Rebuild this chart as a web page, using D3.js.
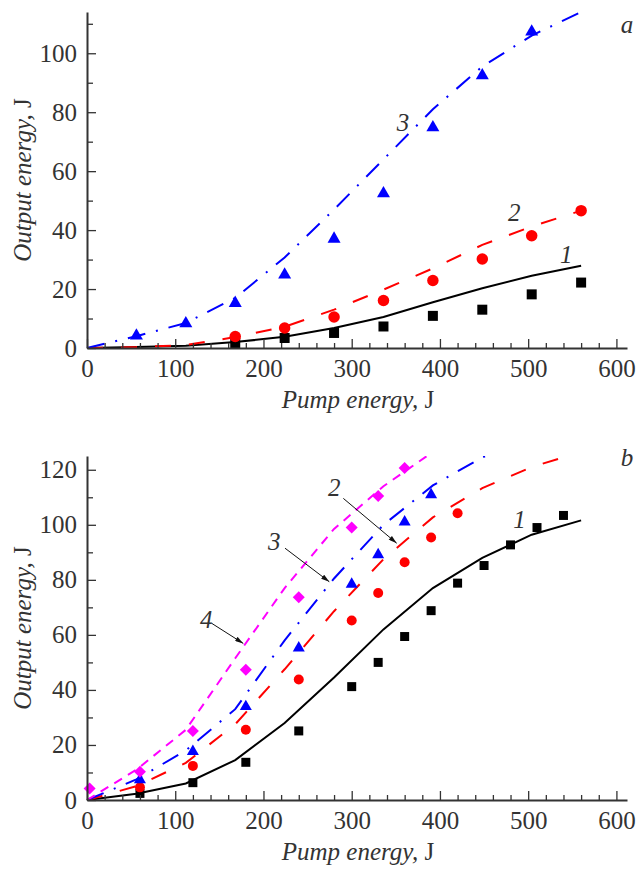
<!DOCTYPE html>
<html>
<head>
<meta charset="utf-8">
<title>Output energy vs pump energy</title>
<style>
body { margin: 0; background: #fff; }
text { font-family: "Liberation Serif", "DejaVu Serif", serif; fill: #333; }
.axis path { stroke: #333; stroke-width: 2; }
.axis line { stroke: #333; stroke-width: 1.3; }
.axis text { font-size: 25px; fill: #333; font-family: "Liberation Serif", serif; }
.title { font-size: 25px; font-style: italic; }
.lab { font-size: 25px; font-style: italic; }
</style>
<script src="https://d3js.org/d3.v7.min.js"></script>
</head>
<body>
<svg width="637" height="870"></svg>
<script>
// ---- panel a : calculated curves (pump grid) ----
const aCalcX = [0, 56, 112, 168, 224, 280, 336, 392, 448, 504, 560];
const aCalc1 = [0, 0.3, 0.8, 2.0, 3.8, 6.8, 10.5, 15.5, 20.3, 24.5, 27.9];
const aCalc2 = [0, 0.3, 1.0, 3.7, 7.2, 13, 19.8, 27, 35, 41.2, 46.6];
const aCalc3 = [0, 4, 8.5, 17, 30.7, 47, 64, 81, 95.5, 106, 114];
// panel a : measured points
const aExpX1 = [168, 224, 280, 336, 392, 448, 504, 560];
const aExp1 = [1.7, 3.4, 5.1, 7.3, 10.9, 13, 18.2, 22.2];
const aExpX2 = [168, 224, 280, 336, 392, 448, 504, 560];
const aExp2 = [3.9, 6.8, 10.5, 16.1, 22.9, 30.2, 38.1, 46.6];
const aExpX3 = [56, 112, 168, 224, 280, 336, 392, 448, 504];
const aExp3 = [4.7, 8.9, 15.8, 25.4, 37.6, 53, 75.4, 93, 107.9];

// ---- panel b : calculated curves ----
const bCalcX = [0, 56, 112, 168, 224, 280, 336, 392, 448, 504, 560];
const bCalc1 = [0, 2.3, 6.0, 14.5, 28, 44.5, 62, 77, 88, 96.4, 101.6];
const bCalc2 = [0, 5, 13.5, 27.5, 47.5, 68.6, 87.5, 102.7, 113.3, 121, 126.5];
const bCalc3 = [0, 7.5, 18, 33, 58, 80.5, 100, 114.3, 124.5, 132];
const bCalc4 = [0, 11, 25.5, 51.5, 77, 98.5, 114, 126.5];
// panel b : measured points
const bExpX1 = [60, 120, 180, 240, 300, 330, 360, 390, 420, 450, 480, 510, 540];
const bExp1 = [2.4, 6.3, 13.7, 25.1, 41.2, 50, 59.4, 68.8, 78.8, 85.2, 92.7, 99, 103.4];
const bExpX2 = [60, 120, 180, 240, 300, 330, 360, 390, 420];
const bExp2 = [4.6, 12.4, 25.5, 43.8, 65.2, 75.2, 86.4, 95.4, 104.2];
const bExpX3 = [60, 120, 180, 240, 300, 330, 360, 390];
const bExp3 = [7.9, 18.2, 34.5, 55.8, 79, 89.7, 101.6, 111.5];
const bExpX4 = [3, 60, 120, 180, 240, 300, 330, 360];
const bExp4 = [4.2, 10.3, 25.1, 47.3, 73.7, 99, 110.5, 120.6];

// ticks
const xMajor = d3.range(0, 601, 100);
const xMinor = d3.range(20, 601, 20).filter(v => v % 100 !== 0);

const svg = d3.select('svg');

// arrow head for the curve labels
svg.append('defs').append('marker')
    .attr('id', 'arrow')
    .attr('viewBox', '0 0 10 6')
    .attr('refX', 10).attr('refY', 3)
    .attr('markerWidth', 9).attr('markerHeight', 5)
    .attr('markerUnits', 'userSpaceOnUse')
    .attr('orient', 'auto')
  .append('path')
    .attr('d', 'M0,0L10,3L0,6Z')
    .attr('fill', '#111');

// marker shapes (centred on bounding box)
const triangle = s => ({ draw(ctx) { ctx.moveTo(0, -s * 0.45); ctx.lineTo(s / 2, s * 0.42); ctx.lineTo(-s / 2, s * 0.42); ctx.closePath(); } });
const diamond = s => ({ draw(ctx) { ctx.moveTo(0, -s / 2); ctx.lineTo(s / 2, 0); ctx.lineTo(0, s / 2); ctx.lineTo(-s / 2, 0); ctx.closePath(); } });
const square = s => ({ draw(ctx) { ctx.rect(-s / 2, -s / 2, s, s); } });
const circle = s => ({ draw(ctx) { ctx.moveTo(s / 2, 0); ctx.arc(0, 0, s / 2, 0, 2 * Math.PI); } });

function drawPanel(p) {
    const x = d3.scaleLinear().domain([0, 612]).range([87, 627]);
    const y = d3.scaleLinear().domain([0, p.yMax]).range(p.yRange);

    const g = svg.append('g');

    // clip for curves that run past the top
    const clipId = 'clip-' + p.name;
    g.append('clipPath').attr('id', clipId)
      .append('rect')
        .attr('x', 0).attr('y', p.yRange[1])
        .attr('width', 637).attr('height', p.yRange[0] - p.yRange[1] + 20);

    // calculated curves
    const line = d3.line().x(d => x(d[0])).y(d => y(d[1]));
    p.curves.forEach(c => {
        const pts = c.ys.map((v, i) => [c.xs[i], v]);
        g.append('path')
            .attr('clip-path', `url(#${clipId})`)
            .attr('d', line(pts))
            .attr('fill', 'none')
            .attr('stroke', c.color)
            .attr('stroke-width', 2)
            .attr('stroke-dasharray', c.dash);
    });

    // measured points
    p.points.forEach(s => {
        const sym = d3.symbol().type(s.shape);
        g.selectAll(null).data(s.ys.map((v, i) => [s.xs[i], v]))
          .enter().append('path')
            .attr('d', sym)
            .attr('transform', d => `translate(${x(d[0])},${y(d[1])})`)
            .attr('fill', s.color);
    });

    // axes
    const y0 = p.yRange[0];
    g.append('g').attr('class', 'axis')
        .attr('transform', `translate(0,${y0})`)
        .call(d3.axisBottom(x).tickValues(xMajor).tickSizeInner(-9).tickSizeOuter(0).tickPadding(11));
    g.append('g').attr('class', 'axis')
        .attr('transform', `translate(0,${y0})`)
        .call(d3.axisBottom(x).tickValues(xMinor).tickSizeInner(-5).tickSizeOuter(0).tickFormat(''))
        .select('.domain').remove();

    g.append('g').attr('class', 'axis')
        .attr('transform', 'translate(87,0)')
        .call(d3.axisLeft(y).tickValues(p.yMajor).tickSizeInner(-9).tickSizeOuter(0).tickPadding(10));
    g.append('g').attr('class', 'axis')
        .attr('transform', 'translate(87,0)')
        .call(d3.axisLeft(y).tickValues(p.yMinor).tickSizeInner(-6).tickSizeOuter(0).tickFormat(''))
        .select('.domain').remove();

    // axis titles
    const xt = g.append('text').attr('class', 'title')
        .attr('x', 358).attr('y', y0 + 60)
        .attr('text-anchor', 'middle');
    xt.append('tspan').text('Pump energy, ');
    xt.append('tspan').attr('font-style', 'normal').text('J');

    const yt = g.append('text').attr('class', 'title')
        .attr('transform', `translate(31,${(p.yRange[0] + p.yRange[1]) / 2}) rotate(-90)`)
        .attr('text-anchor', 'middle');
    yt.append('tspan').text('Output energy, ');
    yt.append('tspan').attr('font-style', 'normal').text('J');

    // curve numbers, panel letter, arrows
    p.labels.forEach(l => {
        g.append('text').attr('class', 'lab')
            .attr('x', x(l.x)).attr('y', y(l.y))
            .attr('font-size', l.big ? '27px' : null)
            .text(l.t);
        if (l.arrow) {
            g.append('line')
                .attr('x1', x(l.arrow[0])).attr('y1', y(l.arrow[1]))
                .attr('x2', x(l.arrow[2])).attr('y2', y(l.arrow[3]))
                .attr('stroke', '#111').attr('stroke-width', 1)
                .attr('marker-end', 'url(#arrow)');
        }
    });
}

const dash2 = '16,18';
const dash3 = '18,11,2,11';
const dash4 = '9,7';

drawPanel({
    name: 'a', yMax: 114, yRange: [348, 12],
    yMajor: d3.range(0, 101, 20), yMinor: d3.range(10, 111, 20),
    curves: [
        { xs: aCalcX, ys: aCalc1, color: '#000', dash: null },
        { xs: aCalcX, ys: aCalc2, color: '#f00', dash: dash2 },
        { xs: aCalcX, ys: aCalc3, color: '#00f', dash: dash3 }
    ],
    points: [
        { xs: aExpX1, ys: aExp1, color: '#000', shape: square(10) },
        { xs: aExpX2, ys: aExp2, color: '#f00', shape: circle(11.5) },
        { xs: aExpX3, ys: aExp3, color: '#00f', shape: triangle(13) }
    ],
    labels: [
        { t: '3', x: 351, y: 73.6 },
        { t: '2', x: 477, y: 43.1 },
        { t: '1', x: 536, y: 28.8 },
        { t: 'a', x: 605, y: 106.9, big: true }
    ]
});

drawPanel({
    name: 'b', yMax: 125, yRange: [800, 456],
    yMajor: d3.range(0, 121, 20), yMinor: d3.range(10, 121, 20),
    curves: [
        { xs: bCalcX, ys: bCalc1, color: '#000', dash: null },
        { xs: bCalcX, ys: bCalc2, color: '#f00', dash: dash2 },
        { xs: bCalcX.slice(0, bCalc3.length), ys: bCalc3, color: '#00f', dash: dash3 },
        { xs: bCalcX.slice(0, bCalc4.length), ys: bCalc4, color: '#f0f', dash: dash4 }
    ],
    points: [
        { xs: bExpX1, ys: bExp1, color: '#000', shape: square(9) },
        { xs: bExpX2, ys: bExp2, color: '#f00', shape: circle(10) },
        { xs: bExpX3, ys: bExp3, color: '#00f', shape: triangle(12) },
        { xs: bExpX4, ys: bExp4, color: '#f0f', shape: diamond(12) }
    ],
    labels: [
        { t: '1', x: 483, y: 98.8 },
        { t: '2', x: 273, y: 110.5, arrow: [290.5, 109.6, 351, 93.3] },
        { t: '3', x: 205, y: 90.8, arrow: [224.4, 91.5, 274.6, 79.3] },
        { t: '4', x: 128, y: 62.5, arrow: [141.3, 64.2, 177.1, 56.9] },
        { t: 'b', x: 605, y: 121.4, big: true }
    ]
});
</script>
</body>
</html>
